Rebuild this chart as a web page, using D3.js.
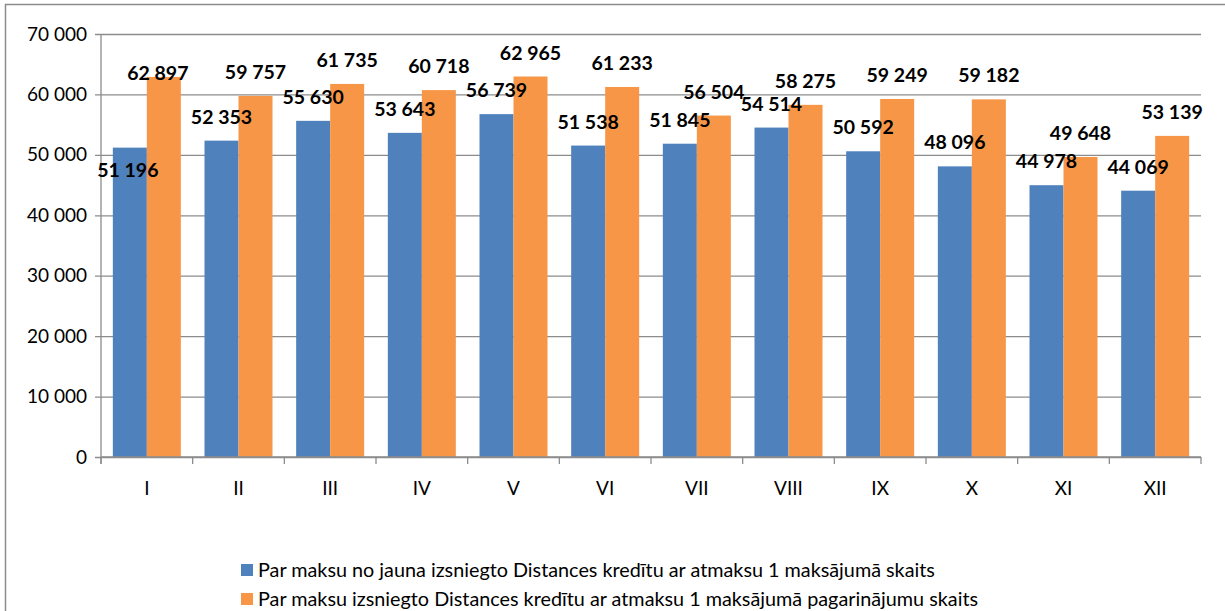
<!DOCTYPE html>
<html>
<head>
<meta charset="utf-8">
<script src="https://cdn.jsdelivr.net/npm/d3@7"></script>
<style>
  html, body { margin: 0; padding: 0; background: #fff; }
  svg { display: block; font-family: Lato, "Open Sans", sans-serif; }
</style>
</head>
<body>
<svg id="chart" width="1225" height="611"></svg>
<script>
// Months (Roman numerals) and the two monthly series
const categories = ["I", "II", "III", "IV", "V", "VI", "VII", "VIII", "IX", "X", "XI", "XII"];
const newLoans = [51196, 52353, 55630, 53643, 56739, 51538, 51845, 54514, 50592, 48096, 44978, 44069];
const extensions = [62897, 59757, 61735, 60718, 62965, 61233, 56504, 58275, 59249, 59182, 49648, 53139];
const seriesNames = [
  "Par maksu no jauna izsniegto Distances kredītu ar atmaksu 1 maksājumā skaits",
  "Par maksu izsniegto Distances kredītu ar atmaksu 1 maksājumā pagarinājumu skaits"
];
const yTicks = [0, 10000, 20000, 30000, 40000, 50000, 60000, 70000];

const colors = ["#4F81BD", "#F79646"];
const gridColor = "#8C8C8C";

const locale = d3.formatLocale({ decimal: ",", thousands: " ", grouping: [3], currency: ["", ""] });
const fmt = locale.format(",d");

const svg = d3.select("#chart");

// outer chart frame (extends past the right/bottom edge)
svg.append("rect")
  .attr("x", 5.5).attr("y", 4.5)
  .attr("width", 1240).attr("height", 640)
  .attr("fill", "none").attr("stroke", gridColor).attr("stroke-width", 1.5);

const plot = { left: 101, right: 1201, top: 34, bottom: 457 };

const x0 = d3.scaleBand().domain(categories).range([plot.left, plot.right]).paddingInner(0).paddingOuter(0);
const x1 = d3.scaleBand().domain([0, 1]).range([0, x0.bandwidth()]).paddingInner(0).paddingOuter(0.348);
const y = d3.scaleLinear().domain([0, 70000]).range([plot.bottom, plot.top]);

// horizontal gridlines + y tick marks
const yAxis = d3.axisLeft(y).tickValues(yTicks).tickFormat(d => fmt(d))
  .tickSize(-(plot.right - plot.left)).tickPadding(14);
const gy = svg.append("g").attr("transform", `translate(${plot.left},0)`).call(yAxis);
gy.select(".domain").remove();
gy.selectAll(".tick line").attr("stroke", gridColor).attr("stroke-width", 1.3).attr("x1", -6);
gy.selectAll(".tick text").attr("fill", "#000").attr("font-size", 19).attr("font-family", "Lato");

// bars
const rows = categories.map((c, i) => ({ cat: c, vals: [newLoans[i], extensions[i]] }));
const groups = svg.append("g").selectAll("g").data(rows).join("g")
  .attr("transform", d => `translate(${x0(d.cat)},0)`);
groups.selectAll("rect").data(d => d.vals.map((v, k) => ({ v, k }))).join("rect")
  .attr("x", d => x1(d.k))
  .attr("width", x1.bandwidth())
  .attr("y", d => y(d.v))
  .attr("height", d => y(0) - y(d.v))
  .attr("fill", d => colors[d.k]);

// x axis line with ticks at category boundaries
const gx = svg.append("g").attr("transform", `translate(0,${plot.bottom})`);
gx.append("line").attr("x1", plot.left).attr("x2", plot.right).attr("y1", 0).attr("y2", 0)
  .attr("stroke", gridColor).attr("stroke-width", 1.3);
const bounds = categories.map(c => x0(c)).concat([x0(categories[categories.length - 1]) + x0.bandwidth()]);
gx.selectAll("line.b").data(bounds).join("line").attr("class", "b")
  .attr("x1", d => d).attr("x2", d => d).attr("y1", 0).attr("y2", 7)
  .attr("stroke", gridColor).attr("stroke-width", 1.3);
gx.selectAll("text").data(categories).join("text")
  .attr("x", d => x0(d) + x0.bandwidth() / 2)
  .attr("y", 38)
  .attr("text-anchor", "middle")
  .attr("font-size", 19)
  .text(d => d);

// vertical axis line
svg.append("line").attr("x1", plot.left).attr("x2", plot.left)
  .attr("y1", plot.top).attr("y2", plot.bottom + 7)
  .attr("stroke", gridColor).attr("stroke-width", 1.3);

// value labels above bars; the first month's pair is nudged to avoid overlap
const nudge = { "I": [[-2, 46], [-6, 20]] };
const labels = svg.append("g");
rows.forEach(r => {
  r.vals.forEach((v, k) => {
    const n = nudge[r.cat] ? nudge[r.cat][k] : [0, 0];
    labels.append("text")
      .attr("x", x0(r.cat) + x1(k) + x1.bandwidth() / 2 + n[0])
      .attr("y", y(v) - 17 + n[1])
      .attr("text-anchor", "middle")
      .attr("font-size", 19.5)
      .attr("font-weight", "bold")
      .text(fmt(v));
  });
});

// legend
const leg = svg.append("g");
seriesNames.forEach((name, k) => {
  const top = 564 + k * 29;
  leg.append("rect").attr("x", 241).attr("y", top).attr("width", 12).attr("height", 12).attr("fill", colors[k]);
  leg.append("text").attr("x", 258).attr("y", top + 13).attr("font-size", 19.8).text(name);
});
</script>
</body>
</html>
